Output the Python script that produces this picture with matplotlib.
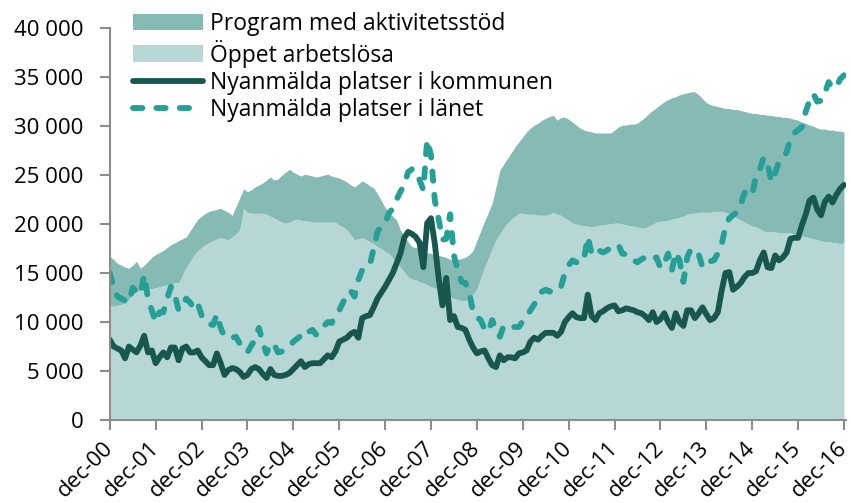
import numpy as np
from matplotlib import pyplot as plt
from matplotlib.lines import Line2D
from matplotlib.patches import Patch
from matplotlib.ticker import FuncFormatter

# månadsvärden, tusental, dec-00 .. dec-16
oppet = [
    11.7, 11.6, 11.7, 11.8, 11.9, 12.3, 12.8, 13.1, 13.3, 13.3, 13.4, 13.4,
    13.5, 13.6, 13.7, 13.8, 13.9, 14.0, 14.0, 14.8, 15.6, 16.2, 16.8, 17.3,
    17.6, 17.9, 18.1, 18.3, 18.5, 18.6, 18.5, 18.4, 18.7, 19.0, 19.4, 21.6,
    21.2, 21.1, 21.1, 21.1, 21.1, 21.0, 20.8, 20.6, 20.4, 20.2, 20.1, 20.2,
    20.4, 20.5, 20.4, 20.3, 20.3, 20.2, 20.2, 20.2, 20.2, 20.2, 20.2, 20.2,
    19.9, 19.7, 19.4, 18.9, 18.4, 18.5, 18.6, 18.4, 18.2, 18.0, 17.7, 17.5,
    17.2, 17.0, 16.5, 16.1, 15.6, 15.1, 14.6, 14.4, 14.3, 14.1, 14.0, 13.8,
    13.6, 13.5, 13.3, 13.1, 12.8, 12.6, 12.4, 12.3, 12.2, 12.2, 12.5, 12.8,
    13.4, 14.5, 15.6, 16.5, 17.5, 18.4, 19.0, 19.6, 20.1, 20.5, 20.8, 21.1,
    21.1, 21.0, 21.0, 21.0, 20.9, 20.9, 20.9, 21.0, 21.2, 21.0, 20.9, 20.6,
    20.4, 20.1, 20.0, 19.9, 19.8, 19.8, 19.7, 19.8, 19.9, 19.9, 20.0, 20.0,
    20.1, 20.1, 20.0, 19.9, 19.8, 19.8, 19.7, 19.6, 19.6, 19.8, 20.0, 20.2,
    20.3, 20.3, 20.4, 20.5, 20.6, 20.7, 20.8, 21.0, 21.1, 21.1, 21.2, 21.2,
    21.2, 21.2, 21.3, 21.3, 21.3, 21.2, 21.0, 20.9, 20.6, 20.4, 20.2, 20.0,
    19.8, 19.7, 19.5, 19.3, 19.2, 19.2, 19.2, 19.1, 19.1, 19.1, 19.1, 19.0,
    18.9, 18.8, 18.7, 18.6, 18.5, 18.4, 18.3, 18.2, 18.2, 18.1, 18.1, 18.0,
    18.1,
]

# öppet arbetslösa + program med aktivitetsstöd
totalt = [
    16.7, 16.4, 16.0, 15.8, 15.6, 15.5, 15.8, 16.2, 15.5, 15.8, 16.2, 16.6,
    16.9, 17.1, 17.3, 17.6, 17.9, 18.1, 18.3, 18.5, 18.7, 19.3, 19.9, 20.5,
    20.8, 21.1, 21.3, 21.4, 21.5, 21.6, 21.4, 21.2, 20.9, 21.8, 22.7, 23.6,
    23.3, 23.5, 23.8, 24.0, 24.2, 24.5, 24.8, 24.5, 24.6, 25.0, 25.3, 25.6,
    25.3, 25.1, 24.9, 25.1, 25.0, 24.9, 24.8, 24.9, 25.0, 25.1, 24.9, 24.8,
    24.7, 24.5, 24.3, 24.0, 23.8, 24.1, 24.4, 24.2, 23.9, 23.7, 23.1, 22.4,
    21.7, 21.2, 20.8, 20.4, 19.4, 18.8, 18.2, 17.7, 17.6, 17.5, 17.3, 17.1,
    17.0, 16.9, 16.8, 16.7, 16.6, 16.4, 16.3, 16.4, 16.5, 16.6, 16.9, 17.3,
    18.3, 19.3, 20.3, 21.2, 22.1, 23.8, 25.5, 26.1, 26.7, 27.3, 27.9, 28.4,
    28.9, 29.4, 29.8, 30.1, 30.3, 30.6, 30.8, 31.0, 31.1, 30.6, 30.9, 30.9,
    30.7, 30.4, 30.1, 29.8, 29.6, 29.5, 29.4, 29.3, 29.3, 29.3, 29.3, 29.3,
    29.6, 29.9, 30.1, 30.1, 30.2, 30.2, 30.3, 30.6, 30.9, 31.3, 31.6, 31.9,
    32.2, 32.5, 32.7, 32.9, 33.0, 33.2, 33.3, 33.4, 33.5, 33.5, 33.2, 32.8,
    32.4, 32.2, 32.1, 32.0, 31.9, 31.8, 31.8, 31.7, 31.7, 31.6, 31.5, 31.4,
    31.3, 31.3, 31.2, 31.2, 31.1, 31.1, 31.0, 31.0, 30.9, 30.9, 30.8, 30.7,
    30.6, 30.4, 30.3, 30.1, 30.0, 29.8, 29.7, 29.7, 29.6, 29.6, 29.5, 29.5,
    29.4,
]

kommun = [
    8.2, 7.5, 7.3, 7.1, 6.3, 7.5, 7.2, 6.9, 7.6, 8.6, 6.9, 7.1,
    5.8, 6.4, 6.9, 6.4, 7.4, 7.4, 6.1, 7.3, 7.5, 6.9, 6.9, 7.1,
    6.4, 6.0, 5.6, 5.6, 6.8, 5.8, 4.6, 5.1, 5.3, 5.2, 4.9, 4.4,
    4.6, 5.2, 5.4, 5.2, 4.7, 4.3, 5.2, 4.6, 4.5, 4.5, 4.6, 4.8,
    5.2, 5.6, 6.0, 5.4, 5.7, 5.8, 5.8, 5.8, 6.2, 6.6, 6.4, 7.0,
    8.0, 8.2, 8.4, 8.8, 9.0, 8.4, 10.4, 10.6, 10.7, 11.5, 12.4, 13.0,
    13.6, 14.3, 15.0, 16.0, 17.0, 18.6, 19.2, 19.0, 18.7, 18.1, 15.6, 20.1,
    20.6, 18.0, 14.5, 11.7, 14.5, 10.2, 10.6, 9.5, 9.4, 9.2, 8.2, 7.4,
    6.8, 7.0, 7.1, 6.3, 5.6, 5.4, 6.6, 6.1, 6.4, 6.4, 6.3, 6.8,
    6.9, 7.1, 8.0, 8.4, 8.2, 8.6, 8.9, 8.9, 8.9, 8.6, 9.0, 10.0,
    10.5, 10.9, 10.5, 10.4, 10.4, 12.8, 10.6, 10.2, 10.9, 11.1, 11.4, 11.6,
    11.7, 11.1, 11.2, 11.4, 11.3, 11.2, 11.0, 10.9, 10.6, 10.2, 11.0, 10.0,
    10.3, 10.9, 10.0, 9.4, 10.9, 10.0, 9.6, 11.2, 11.2, 10.4, 10.9, 11.5,
    10.8, 10.2, 10.4, 11.0, 13.2, 15.0, 15.1, 13.3, 13.6, 14.0, 14.6, 15.0,
    15.0, 15.2, 16.3, 17.1, 15.6, 15.5, 16.8, 16.3, 16.6, 17.1, 18.5, 18.6,
    18.6, 19.9, 21.0, 22.4, 22.7, 21.5, 20.9, 22.3, 22.8, 22.2, 23.0, 23.6,
    24.0,
]

lanet = [
    15.0, 13.6, 12.6, 12.4, 12.2, 12.0, 13.5, 13.1, 12.8, 14.8, 12.4, 11.2,
    10.0, 11.0, 11.0, 12.4, 13.6, 12.8, 11.2, 11.7, 12.4, 12.0, 11.4, 11.9,
    10.7, 10.0, 9.8, 9.7, 10.8, 9.4, 8.5, 8.4, 8.4, 8.5, 7.8, 7.3,
    6.9, 7.6, 8.2, 9.4, 7.9, 6.8, 7.8, 7.7, 6.9, 7.0, 7.2, 7.5,
    8.0, 8.3, 8.6, 9.2, 9.0, 9.2, 8.7, 9.3, 9.6, 10.0, 9.9, 10.6,
    11.2, 12.0, 12.8, 13.2, 12.6, 14.3, 15.3, 15.5, 15.8, 17.5, 19.2, 19.8,
    20.1, 21.1, 21.6, 22.5, 23.3, 24.0, 25.3, 25.6, 25.5, 24.5, 23.5, 28.6,
    27.0, 22.4, 20.5, 18.4, 18.5, 21.0, 16.8, 15.3, 14.1, 14.0, 13.0, 11.0,
    10.5, 10.2, 9.3, 9.0, 10.2, 9.2, 8.5, 9.6, 9.7, 9.5, 9.5, 9.5,
    10.1, 10.6, 11.2, 11.8, 12.4, 13.1, 13.3, 13.1, 13.3, 13.2, 13.6, 15.0,
    15.8, 16.3, 16.1, 16.0, 16.4, 18.7, 17.0, 16.8, 17.3, 17.1, 17.3, 17.6,
    17.8, 17.9, 17.0, 16.9, 16.8, 16.3, 16.1, 16.4, 16.6, 16.3, 16.5, 16.6,
    15.5, 16.0, 17.0, 15.3, 17.1, 16.3, 14.1, 16.6, 17.5, 17.3, 16.9, 15.6,
    16.1, 16.2, 16.3, 17.0, 17.9, 19.7, 20.6, 20.9, 21.2, 22.0, 23.2, 23.4,
    23.0, 25.0, 25.6, 26.8, 26.2, 24.3, 25.2, 26.4, 26.9, 27.3, 28.8, 29.3,
    29.6, 29.9, 31.5, 32.6, 33.3, 32.5, 32.6, 33.4, 34.5, 33.9, 34.0, 34.8,
    35.2,
]

ar_etiketter = ["dec-%02d" % a for a in range(0, 17)]

oppet = np.array(oppet) * 1000
totalt = np.array(totalt) * 1000
kommun = np.array(kommun) * 1000
lanet = np.array(lanet) * 1000
manad = np.arange(len(kommun))

FARG_PROGRAM = "#86bbb5"
FARG_OPPET = "#b6d7d5"
FARG_KOMMUN = "#185750"
FARG_LAN = "#26a096"
GRA = "#8c8c8c"
LW = 4.2
STRECK = (1.6, 2.4)

plt.rcParams["font.family"] = ["Open Sans", "DejaVu Sans"]

fig = plt.figure(figsize=(8.51, 5.03), dpi=100)
ax = fig.add_axes([0.129, 0.165, 0.865, 0.779])

ax.fill_between(manad, 0, oppet, color=FARG_OPPET, lw=0)
ax.fill_between(manad, oppet, totalt, color=FARG_PROGRAM, lw=0)
ax.plot(manad, kommun, color=FARG_KOMMUN, lw=LW, solid_capstyle="round", solid_joinstyle="round")
ax.plot(manad, lanet, color=FARG_LAN, lw=LW, dashes=STRECK, dash_capstyle="round", dash_joinstyle="round")

ax.set_xlim(0, 192.5)
ax.set_ylim(0, 40000)
ax.set_yticks(range(0, 40001, 5000))
ax.yaxis.set_major_formatter(FuncFormatter(lambda v, p: f"{int(v):,}".replace(",", " ")))
ax.set_xticks(range(0, 193, 12))
ax.set_xticklabels(ar_etiketter, rotation=45, ha="right", va="center", rotation_mode="anchor",
                   fontsize=16)

for s in ["top", "right"]:
    ax.spines[s].set_visible(False)
for s in ["left", "bottom"]:
    ax.spines[s].set_color(GRA)
    ax.spines[s].set_linewidth(1.5)
ax.tick_params(axis="both", colors=GRA, labelcolor="black", width=1.5, length=7, direction="out")
ax.tick_params(axis="y", pad=12, labelsize=16)
ax.tick_params(axis="x", pad=11)

handtag = [
    Patch(facecolor=FARG_PROGRAM, edgecolor="none"),
    Patch(facecolor=FARG_OPPET, edgecolor="none"),
    Line2D([], [], color=FARG_KOMMUN, lw=LW, solid_capstyle="round"),
    Line2D([], [], color=FARG_LAN, lw=LW, dashes=STRECK, dash_capstyle="round"),
]
namn = [
    "Program med aktivitetsstöd",
    "Öppet arbetslösa",
    "Nyanmälda platser i kommunen",
    "Nyanmälda platser i länet",
]
fig.legend(handtag, namn, loc="upper left", bbox_to_anchor=(0.156, 0.976), frameon=False,
           fontsize=16.5, handlelength=3.05, handletextpad=0.3, labelspacing=0.15, borderpad=0,
           borderaxespad=0)

fig.savefig("out.png", dpi=100)
